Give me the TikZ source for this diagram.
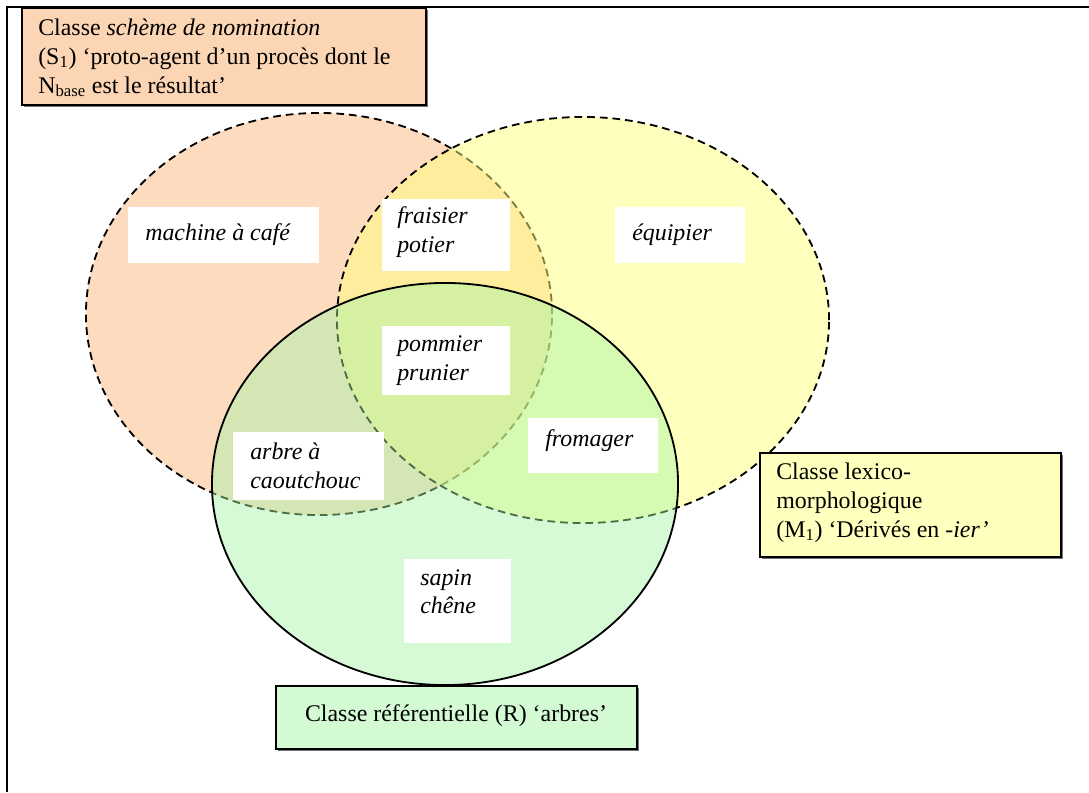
\documentclass[tikz,border=0pt]{standalone}
\usepackage{fontspec}
\setmainfont{Liberation Serif}
\usetikzlibrary{fit,shadows}
\definecolor{orfill}{RGB}{252,219,191}
\definecolor{yefill}{RGB}{255,255,125}
\definecolor{grfill}{RGB}{165,245,165}
\definecolor{orbox}{RGB}{251,213,180}
\definecolor{yebox}{RGB}{255,255,190}
\definecolor{grbox}{RGB}{212,250,212}
\begin{document}
\begin{tikzpicture}[x=0.025cm,y=-0.025cm,
  txt/.style={inner sep=0pt, anchor=base west, font=\fontsize{17pt}{20.6pt}\selectfont},
  itxt/.style={txt, font=\fontsize{17pt}{20.6pt}\selectfont\itshape},
  whitebox/.style={fill=white, draw=none, inner sep=0pt},
  classbox/.style={draw=black, line width=1.1pt, inner sep=0pt,
    drop shadow={shadow xshift=1.5pt, shadow yshift=-1.5pt, fill=black!55, opacity=1}},
  vset/.style={line width=1.3pt},
  vdash/.style={vset, dash pattern=on 5.5pt off 3.5pt}]
\useasboundingbox (0,0) rectangle (1089,792);
\fill[white] (0,0) rectangle (1089,792);
% frame
\draw[line width=1.5pt] (7,792) -- (7,7) -- (1089,7);
% sets
\fill[orfill] (319,314) ellipse [x radius=5.825cm, y radius=5.025cm];
\draw[vdash] (319,314) ellipse [x radius=5.825cm, y radius=5.025cm];
\fill[yefill, fill opacity=0.5] (583,320) ellipse [x radius=6.15cm, y radius=5.075cm];
\draw[vdash] (583,320) ellipse [x radius=6.15cm, y radius=5.075cm];
\fill[grfill, fill opacity=0.45] (445,484) ellipse [x radius=5.825cm, y radius=5.025cm];
\draw[vset] (445,484) ellipse [x radius=5.825cm, y radius=5.025cm];
% white label boxes
\node[whitebox, fit={(128,207) (319,263)}] (wmach) {};
\node[whitebox, fit={(382,199) (510,271)}] (wfrai) {};
\node[whitebox, fit={(615,207) (745,263)}] (wequi) {};
\node[whitebox, fit={(382,326) (510,395)}] (wpomm) {};
\node[whitebox, fit={(233,432) (384,500)}] (warbr) {};
\node[whitebox, fit={(528,418) (658,473)}] (wfrom) {};
\node[whitebox, fit={(404,559) (511,643)}] (wsapi) {};
% label texts
\node[itxt] (tmach) at (145,240) {machine à café};
\node[itxt] (tfrai1) at (397,223) {fraisier};
\node[itxt] (tfrai2) at (397,252) {potier};
\node[itxt] (tequi) at (632,240) {équipier};
\node[itxt] (tpomm1) at (397,351) {pommier};
\node[itxt] (tpomm2) at (397,380) {prunier};
\node[itxt] (tarbr1) at (250,459) {arbre à};
\node[itxt] (tarbr2) at (250,488) {caoutchouc};
\node[itxt] (tfrom) at (545,446) {fromager};
\node[itxt] (tsapi1) at (420,585) {sapin};
\node[itxt] (tsapi2) at (420,613) {chêne};
% class boxes
\node[classbox, fill=orbox, fit={(22,8) (426,105)}] (sbox) {};
\node[txt] (s1) at (38,35) {Classe \textit{schème de nomination}};
\node[txt] (s2) at (38,64) {(S\textsubscript{1}) ‘proto-agent d’un procès dont le};
\node[txt] (s3) at (38,93) {N\textsubscript{base} est le résultat’};
\node[classbox, fill=yebox, fit={(760,453) (1061,557)}] (mbox) {};
\node[txt] (m1) at (776,479) {Classe lexico-};
\node[txt] (m2) at (776,508) {morphologique};
\node[txt] (m3) at (776,537) {(M\textsubscript{1}) ‘Dérivés en \textit{-ier’}};
\node[classbox, fill=grbox, fit={(276,686) (637,749)}] (rbox) {};
\node[txt, anchor=base] (r1) at (456,721) {Classe référentielle (R) ‘arbres’};
\end{tikzpicture}
\end{document}
